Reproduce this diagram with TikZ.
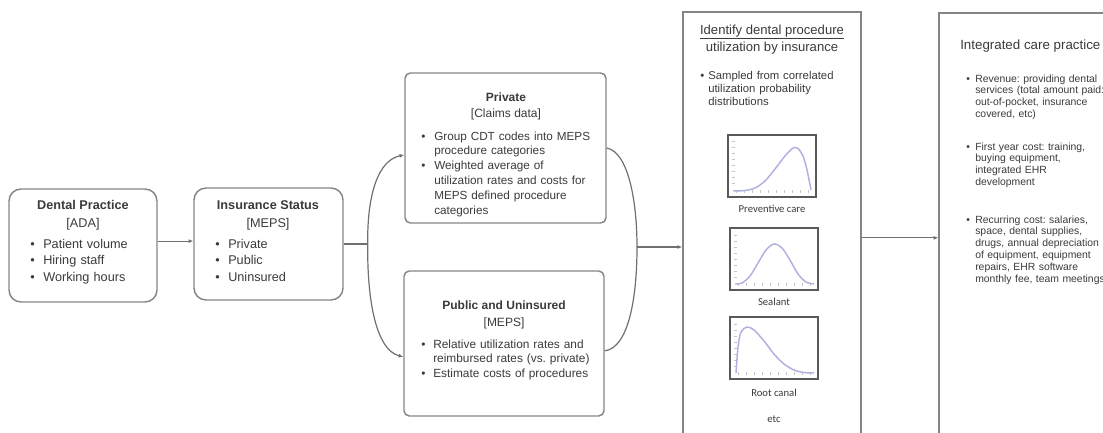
\documentclass[tikz,border=0pt]{standalone}
\usepackage{fontspec}
\setmainfont{Liberation Sans}
\newfontfamily\calib{Carlito}
\usetikzlibrary{arrows.meta,calc}
\definecolor{txt}{HTML}{3A3A3A}
\definecolor{bord}{HTML}{858585}
\definecolor{linkc}{HTML}{707070}
\definecolor{curvec}{HTML}{B0B0E0}
\definecolor{framec}{HTML}{5A5A5A}
\definecolor{tickc}{HTML}{C4C4C4}
\newcommand{\bl}[2]{\par\hangindent=#1\hangafter=1\noindent\makebox[#1][l]{\textbullet}\strut#2\par}
\begin{document}
\frenchspacing
\begin{tikzpicture}[x=0.75pt,y=-0.75pt,
  box/.style={draw=bord,line width=1.1pt,inner sep=0pt},
  rbox/.style={box,rounded corners=9pt},
  sbox/.style={box,rounded corners=4pt},
  ttl/.style={anchor=base,inner sep=0pt,text=txt},
  blk/.style={anchor=north west,inner sep=0pt,text=txt,align=left},
  link/.style={draw=linkc,line width=0.9pt},
  arr/.style={-{Latex[length=3.5pt,width=3pt]}},
  frm/.style={draw=framec,line width=1.1pt},
  crv/.style={draw=curvec,line width=1.1pt},
  tck/.style={draw=tickc,line width=0.5pt},
  lab/.style={anchor=base,inner sep=0pt,text=txt,font=\calib\fontsize{8}{9}\selectfont}
]
\useasboundingbox (0,0) rectangle (1103,432);
\clip (0,0) rectangle (1103,432);

% boxes
\node[rbox,minimum width=111pt,minimum height=84.75pt] (dental) at (83,245.5) {};
\node[rbox,minimum width=111.75pt,minimum height=84pt] (ins) at (268.5,244) {};
\node[sbox,minimum width=150.75pt,minimum height=112.5pt] (priv) at (505.5,148) {};
\node[sbox,minimum width=150pt,minimum height=108.75pt] (pub) at (504,343.5) {};
\node[box,minimum width=133.5pt,minimum height=324.75pt] (ident) at (772,228.5) {};
\node[box,minimum width=135.75pt,minimum height=324pt] (integ) at (1029.5,229) {};

% Dental practice
\node[ttl,font=\bfseries\fontsize{9.5}{12}\selectfont] (dt) at (83,209) {Dental Practice};
\node[ttl,font=\fontsize{9.5}{12}\selectfont] (ds) at (83,227) {[ADA]};
\node[blk,text width=120pt,font=\fontsize{9.5}{12.6}\selectfont] (db) at (30,231) {\bl{9.75pt}{Patient volume}\bl{9.75pt}{Hiring staff}\bl{9.75pt}{Working hours}};

% Insurance status
\node[ttl,font=\bfseries\fontsize{9.5}{12}\selectfont] (it) at (268,209) {Insurance Status};
\node[ttl,font=\fontsize{9.5}{12}\selectfont] (is) at (268,227) {[MEPS]};
\node[blk,text width=100pt,font=\fontsize{9.5}{12.6}\selectfont] (ib) at (215,231) {\bl{9.75pt}{Private}\bl{9.75pt}{Public}\bl{9.75pt}{Uninsured}};

% Private
\node[ttl,font=\bfseries\fontsize{9}{11}\selectfont] (pt) at (506,101) {Private};
\node[ttl,font=\fontsize{9}{11}\selectfont] (ps) at (506,117) {[Claims data]};
\node[blk,text width=140pt,font=\fontsize{8.8}{11.1}\selectfont] (pb) at (421,125) {\bl{9.75pt}{Group CDT codes into MEPS\newline procedure categories}\bl{9.75pt}{Weighted average of\newline utilization rates and costs for\newline MEPS defined procedure\newline categories}};

% Public and uninsured
\node[ttl,font=\bfseries\fontsize{9}{11}\selectfont] (ut) at (504,309) {Public and Uninsured};
\node[ttl,font=\fontsize{9}{11}\selectfont] (us) at (504,326) {[MEPS]};
\node[blk,text width=140pt,font=\fontsize{8.9}{10.9}\selectfont] (ub) at (421,333.4) {\bl{9pt}{Relative utilization rates and\newline reimbursed rates (vs. private)}\bl{9pt}{Estimate costs of procedures}};

% Identify
\node[ttl,font=\fontsize{9.8}{12}\selectfont] (dt1) at (772,34) {\underline{Identify dental procedure}};
\node[ttl,font=\fontsize{9.8}{12}\selectfont] (dt2) at (772,51) {utilization by insurance};
\node[blk,text width=120pt,font=\fontsize{8.5}{9.75}\selectfont] (sb) at (700,66.3) {\bl{6pt}{Sampled from correlated\newline utilization probability\newline distributions}};

% plots
\draw[frm] (728,135) rectangle (816,197);
\foreach \yy in {141,147,...,187} \draw[tck] (732,\yy) -- (734.5,\yy);
\foreach \xx in {736,744,...,812} \draw[tck] (\xx,190) -- (\xx,192.5);
\draw[crv] plot[smooth] coordinates {(733,191) (745,190.5) (755,188) (765,181) (775,169) (785,156) (793,148) (798,148.5) (803,156) (807,170) (811,190)};
\node[lab] (l1) at (772,212) {Preventive care};

\draw[frm] (730,228) rectangle (818,290);
\foreach \yy in {235,241,...,281} \draw[tck] (734,\yy) -- (736.5,\yy);
\foreach \xx in {738,746,...,814} \draw[tck] (\xx,283) -- (\xx,285.5);
\draw[crv] plot[smooth] coordinates {(735,284) (742,283) (750,276) (758,263) (766,250) (774,244) (782,248) (790,260) (798,274) (806,282) (814,284)};
\node[lab] (l2) at (774,305) {Sealant};

\draw[frm] (730,317) rectangle (818,379);
\foreach \yy in {324,330,...,370} \draw[tck] (734,\yy) -- (736.5,\yy);
\foreach \xx in {738,746,...,814} \draw[tck] (\xx,372) -- (\xx,374.5);
\draw[crv] plot[smooth] coordinates {(736,373) (738,347) (741,332) (747,327) (754,330) (764,341) (774,354) (784,364) (794,370) (804,372.5) (814,373)};
\node[lab] (l3) at (774,396) {Root canal};
\node[lab] (l4) at (774,422) {etc};

% Integrated
\node[anchor=base west,inner sep=0pt,text=txt,font=\fontsize{10}{12}\selectfont] (gt) at (960,49) {Integrated care practice};
\node[blk,text width=160pt,font=\fontsize{7.8}{8.85}\selectfont] (g1) at (966,70) {\bl{6.75pt}{Revenue: providing dental\newline services (total amount paid:\newline out-of-pocket, insurance\newline covered, etc)}};
\node[blk,text width=160pt,font=\fontsize{7.8}{8.85}\selectfont] (g2) at (966,138) {\bl{6.75pt}{First year cost: training,\newline buying equipment,\newline integrated EHR\newline development}};
\node[blk,text width=160pt,font=\fontsize{7.8}{8.85}\selectfont] (g3) at (966,211) {\bl{6.75pt}{Recurring cost: salaries,\newline space, dental supplies,\newline drugs, annual depreciation\newline of equipment, equipment\newline repairs, EHR software\newline monthly fee, team meetings}};

% connectors
\coordinate (a1) at ([yshift=3.3pt]dental.east);
\draw[link,arr] (a1) -- (a1 -| ins.west);
\coordinate (j1) at ([xshift=18pt]ins.east);
\draw[link] (ins.east) -- (j1);
\coordinate (pin) at ([yshift=-5.25pt]priv.west);
\coordinate (uin) at ([yshift=-10pt]pub.west);
\draw[link,arr] (j1) .. controls (367,195) and (378,160) .. (pin);
\draw[link,arr] (j1) .. controls (367,300) and (376,350) .. (uin);
\coordinate (j2) at (637,247);
\coordinate (uout) at ([yshift=-5.5pt]pub.east);
\draw[link] (priv.east) .. controls (628,152) and (637,200) .. (j2);
\draw[link] (j2) .. controls (637,300) and (628,348) .. (uout);
\draw[link,arr] (j2) -- (j2 -| ident.west);
\coordinate (a3) at ([yshift=-7pt]ident.east);
\draw[link,arr] (a3) -- (a3 -| integ.west);
\end{tikzpicture}
\end{document}
